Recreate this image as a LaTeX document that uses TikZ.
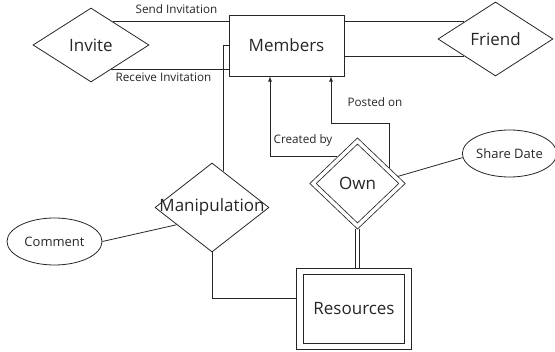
\documentclass[tikz,border=0pt]{standalone}
\usepackage{fontspec}
\setmainfont{Open Sans}
\usepackage{tikz}
\usetikzlibrary{arrows,shapes}

\begin{document}
\begin{tikzpicture}[x=1pt,y=-1pt,line width=0.8pt,color=black!85,
    entity/.style={draw,rectangle,inner sep=0pt,font=\fontsize{17}{20}\selectfont},
    relation/.style={draw,diamond,inner sep=0pt,font=\fontsize{17}{20}\selectfont},
    attribute/.style={draw,ellipse,inner sep=0pt,font=\fontsize{13}{15}\selectfont},
    edgelabel/.style={inner sep=0pt,font=\fontsize{11.7}{14}\selectfont}]
    \useasboundingbox (0,0) rectangle (555,352);

    \node[entity,minimum width=115pt,minimum height=61pt] (members) at (286.5,45.5) {Members};
    \node[relation,minimum width=116pt,minimum height=74pt] (invite) at (91,45) {Invite};
    \node[relation,minimum width=115pt,minimum height=74pt] (friend) at (495.5,39) {Friend};
    \node[relation,minimum width=114pt,minimum height=89pt] (manip) at (212,207.5) {\makebox[0pt]{Manipulation}};
    \node[relation,double,double distance=3.5pt,outer sep=2.5pt,
          minimum width=91pt,minimum height=87pt] (own) at (357.5,183.5) {Own};
    \node[entity,double,double distance=5.5pt,outer sep=3.5pt,
          minimum width=108pt,minimum height=75pt] (resources) at (354,309) {Resources};
    \node[attribute,minimum width=95pt,minimum height=47pt] (comment) at (54.5,241.5) {Comment};
    \node[attribute,minimum width=89pt,minimum height=47pt] (sharedate) at (509.5,153.5) {Share Date};

    \node[edgelabel] (sendlbl) at (176.5,9.5) {Send Invitation};
    \node[edgelabel] (receivelbl) at (163.5,77.5) {Receive Invitation};
    \node[edgelabel] (createdlbl) at (303,140) {Created by};
    \node[edgelabel] (postedlbl) at (375,102.5) {Posted on};

    \draw (invite.46) -- (invite.46 -| members.west);
    \draw (invite.-50) -- (invite.-50 -| members.west);
    \draw (members.east |- friend.151) -- (friend.151);
    \draw (members.east |- friend.209) -- (friend.209);
    \draw (members.west) -| (manip.73);
    \draw (manip.south) |- (resources.170);
    \draw (comment.east) -- (manip.206);
    \draw (own.10) -- (sharedate.185);
    \draw ([xshift=-1.8pt]own.south) -- ([xshift=-1.8pt]own.south |- resources.north);
    \draw ([xshift=1.8pt]own.south) -- ([xshift=1.8pt]own.south |- resources.north);
    \draw[-latex] (own.127) -| ([xshift=-16.5pt]members.south);
    \draw[-latex] (own.25) |- ([xshift=44.5pt,yshift=-47pt]members.south)
        -- ([xshift=44.5pt]members.south);
\end{tikzpicture}
\end{document}
